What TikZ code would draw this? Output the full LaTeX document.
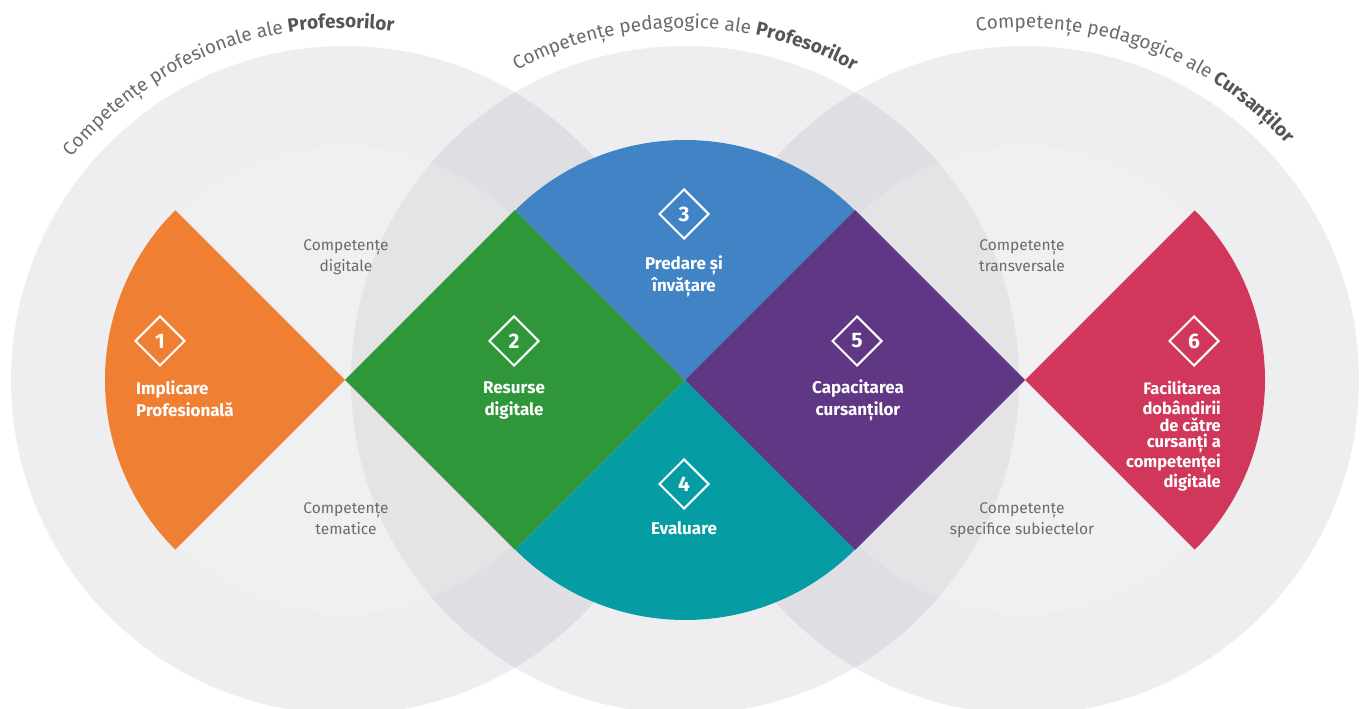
\documentclass[tikz,border=0pt]{standalone}
\usepackage{fontspec}
\setmainfont{Fira Sans}
\usetikzlibrary{shapes.geometric,decorations.text}
\definecolor{corange}{HTML}{EF7F33}
\definecolor{cgreen}{HTML}{2F9639}
\definecolor{cblue}{HTML}{4184C5}
\definecolor{cteal}{HTML}{069CA4}
\definecolor{cpurple}{HTML}{5F3784}
\definecolor{cred}{HTML}{D0375B}
\definecolor{ringgrey}{RGB}{120,120,138}
\definecolor{labgrey}{HTML}{6B6B6B}
\definecolor{arcgrey}{HTML}{6B6B6B}
\definecolor{arcdark}{HTML}{555555}
\newcommand\arcreg{\fontsize{19}{22}\selectfont\mdseries\color{arcgrey}}
\newcommand\arcbold{\fontsize{19}{22}\selectfont\bfseries\color{arcdark}}
\tikzset{
 outerring/.style={fill=ringgrey, fill opacity=0.12},
 innerring/.style={fill=white, fill opacity=0.17},
 numd/.style={shape=diamond, draw=white, line width=2pt, minimum width=50pt, minimum height=50pt, inner sep=0pt, text=white, font=\fontsize{21}{24}\selectfont\bfseries},
 lab/.style={text=white, font=\fontsize{17}{22}\selectfont\bfseries, inner sep=0pt},
 labtight/.style={text=white, font=\fontsize{16.5}{16.7}\selectfont\bfseries, inner sep=0pt},
 glab/.style={text=labgrey, font=\fontsize{15.5}{21}\selectfont, inner sep=0pt, align=center, anchor=north}
}
\begin{document}
\begin{tikzpicture}[x=1pt,y=1pt]
\useasboundingbox (0,0) rectangle (1360,709);
\fill[white] (0,0) rectangle (1360,709);
\coordinate (C1) at (345,329);
\coordinate (C2) at (685,329);
\coordinate (C3) at (1025,329);
% big rings
\fill[outerring] (C1) circle[radius=334];
\fill[outerring] (C2) circle[radius=334];
\fill[outerring] (C3) circle[radius=334];
\fill[innerring] (C1) circle[radius=234];
\fill[innerring] (C2) circle[radius=234];
\fill[innerring] (C3) circle[radius=234];
% coloured segments
\fill[corange] (C1) -- ++(135:240) arc[start angle=135, end angle=225, radius=240] -- cycle;
\fill[cgreen] (C1) -- ++(170,170) -- (C2) -- ++(-170,-170) -- cycle;
\fill[cblue] (C2) -- ++(135:240) arc[start angle=135, end angle=45, radius=240] -- cycle;
\fill[cteal] (C2) -- ++(225:240) arc[start angle=225, end angle=315, radius=240] -- cycle;
\fill[cpurple] (C2) -- ++(170,170) -- (C3) -- ++(-170,-170) -- cycle;
\fill[cred] (C3) -- ++(45:240) arc[start angle=45, end angle=-45, radius=240] -- cycle;
% numbers
\node[numd] (n1) at (160,368) {1};
\node[numd] (n2) at (514,368) {2};
\node[numd] (n3) at (684,495) {3};
\node[numd] (n4) at (684,225) {4};
\node[numd] (n5) at (857,368) {5};
\node[numd] (n6) at (1194,368) {6};
% white labels
\node[lab, anchor=north west, align=left] (l1) at (136,330.4) {\strut Implicare\\Profesională};
\node[lab, anchor=north, align=center] (l2) at (514,331.4) {\strut Resurse\\digitale};
\node[lab, anchor=north, align=center] (l3) at (684,455.4) {\strut Predare și\\învățare};
\node[lab, anchor=north, align=center] (l4) at (684,190.4) {\strut Evaluare};
\node[lab, anchor=north, align=center] (l5) at (858,331.4) {\strut Capacitarea\\cursanților};
\node[labtight, anchor=north east, align=right] (l6) at (1221,327.7) {\strut Facilitarea\\dobândirii\\de către\\cursanți a\\competenței\\digitale};
% grey labels
\node[glab] (g1) at (346,473.7) {\strut Competențe\\digitale};
\node[glab] (g2) at (346,210.7) {\strut Competențe\\tematice};
\node[glab] (g3) at (1022,473.7) {\strut Competențe\\transversale};
\node[glab] (g4) at (1022,210.7) {\strut Competențe\\specifice subiectelor};
% arc titles
\path[decorate, decoration={text along path, text align=center,
  text={|\arcreg|Competențe profesionale ale |\arcbold|Profesorilor}}]
  ([shift={(171.5:352)}]C1) arc[start angle=171.5, end angle=51.5, radius=352];
\path[decorate, decoration={text along path, text align=center,
  text={|\arcreg|Competențe pedagogice ale |\arcbold|Profesorilor}}]
  ([shift={(150:352)}]C2) arc[start angle=150, end angle=30, radius=352];
\path[decorate, decoration={text along path, text align=center,
  text={|\arcreg|Competențe pedagogice ale |\arcbold|Cursanților}}]
  ([shift={(130:352)}]C3) arc[start angle=130, end angle=10, radius=352];
\end{tikzpicture}
\end{document}
